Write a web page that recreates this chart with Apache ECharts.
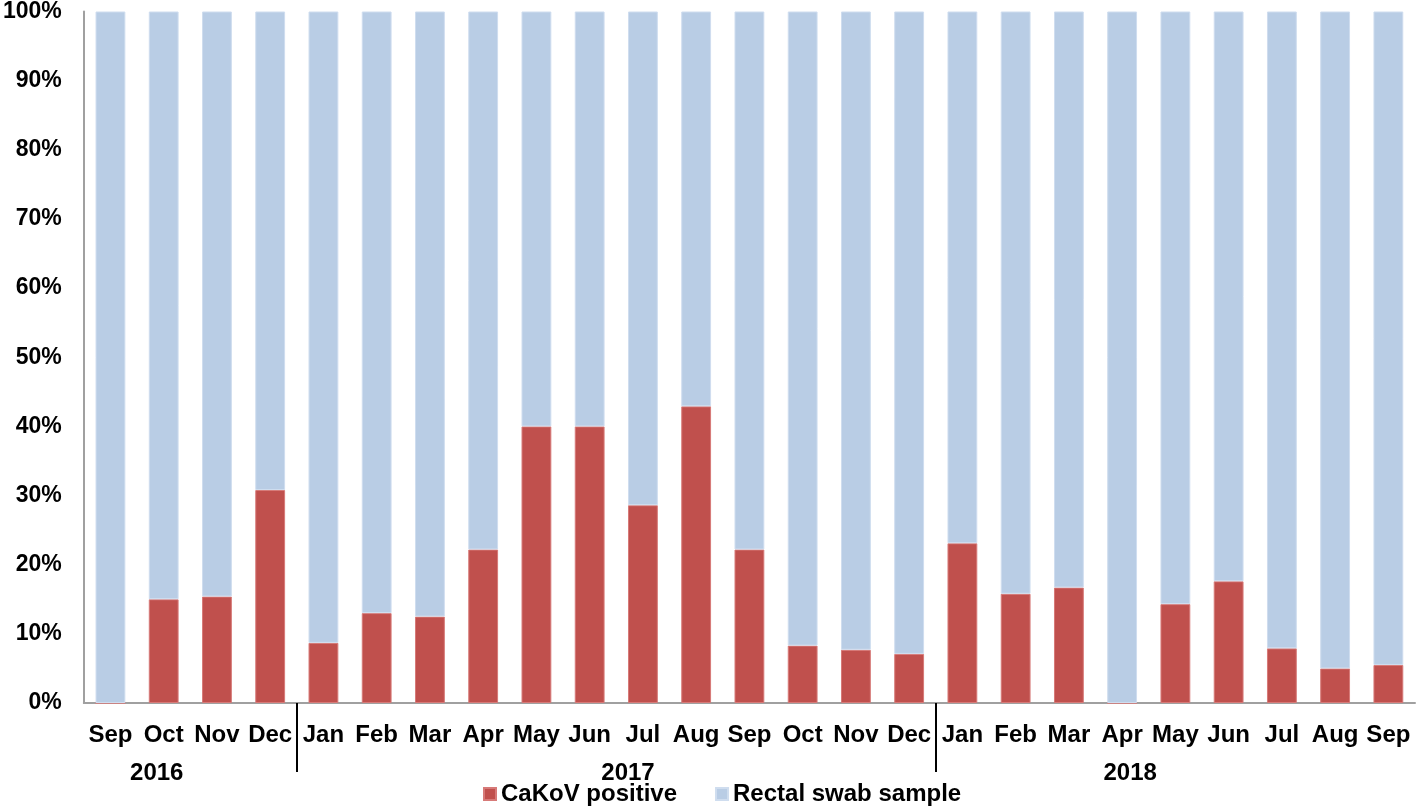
<!DOCTYPE html>
<html>
<head>
<meta charset="utf-8">
<script src="https://cdn.jsdelivr.net/npm/echarts@6/dist/echarts.min.js"></script>
<style>
  html, body { margin: 0; padding: 0; background: #fff; }
  #chart { width: 1418px; height: 806px; }
</style>
</head>
<body>
<div id="chart"></div>
<script>
// months Sep 2016 .. Sep 2018
var months = ['Sep', 'Oct', 'Nov', 'Dec', 'Jan', 'Feb', 'Mar', 'Apr', 'May', 'Jun', 'Jul', 'Aug', 'Sep',
              'Oct', 'Nov', 'Dec', 'Jan', 'Feb', 'Mar', 'Apr', 'May', 'Jun', 'Jul', 'Aug', 'Sep'];
// percent positive
var positive = [0, 15.0, 15.4, 30.8, 8.7, 13.0, 12.5, 22.2, 40.0, 40.0, 28.6, 42.9, 22.2,
                8.3, 7.7, 7.1, 23.1, 15.8, 16.7, 0, 14.3, 17.6, 7.9, 5.0, 5.5];
// rest of the samples (percent)
var swab = [100, 85.0, 84.6, 69.2, 91.3, 87.0, 87.5, 77.8, 60.0, 60.0, 71.4, 57.1, 77.8,
            91.7, 92.3, 92.9, 76.9, 84.2, 83.3, 100, 85.7, 82.4, 92.1, 95.0, 94.5];
var years = ['2016', '2017', '2018'];
var yearAt = [1.37, 10.22, 19.65];   // where the year text sits (in month units)
var yearBreaks = [4, 16];            // dividers between years

var font = '"Liberation Sans", Arial, sans-serif';
var myChart = echarts.init(document.getElementById('chart'));
var option = {
    animation: false,
    color: ['#C0504D', '#B9CDE5'],
    grid: { left: 81, right: 3, top: 10, bottom: 103 },
    legend: {
        data: ['CaKoV positive', 'Rectal swab sample'],
        left: 478,
        top: 777,
        itemWidth: 12,
        itemHeight: 12,
        itemGap: 38,
        icon: 'rect',
        textStyle: { fontFamily: font, fontWeight: 'bold', fontSize: 24, color: '#000' }
    },
    xAxis: [
        {
            type: 'category',
            data: months,
            axisLine: { lineStyle: { color: '#A0A0A0', width: 2 } },
            axisTick: { show: false },
            axisLabel: {
                interval: 0, margin: 20,
                fontFamily: font, fontWeight: 'bold', fontSize: 24, color: '#000'
            }
        },
        {
            type: 'value',
            min: 0,
            max: months.length,
            position: 'bottom',
            axisLine: { show: false },
            splitLine: { show: false },
            axisTick: {
                show: true,
                customValues: yearBreaks,
                length: 69,
                lineStyle: { color: '#000', width: 2 }
            },
            axisLabel: {
                customValues: yearAt,
                margin: 58,
                fontFamily: font, fontWeight: 'bold', fontSize: 24, color: '#000',
                formatter: function (v) { return years[yearAt.indexOf(v)]; }
            }
        }
    ],
    yAxis: {
        type: 'value',
        min: 0,
        max: 100,
        interval: 10,
        axisLine: { show: true, lineStyle: { color: '#A0A0A0', width: 2 } },
        axisTick: { show: false },
        splitLine: { show: false },
        axisLabel: {
            margin: 22,
            padding: [14, 0, 0, 0],
            formatter: '{value}%',
            fontFamily: font, fontWeight: 'bold', fontSize: 23, color: '#000'
        }
    },
    series: [
        {
            name: 'CaKoV positive',
            type: 'bar',
            stack: 'all',
            barWidth: '56%',
            itemStyle: { borderColor: '#D77A78', borderWidth: 1 },
            data: positive
        },
        {
            name: 'Rectal swab sample',
            type: 'bar',
            stack: 'all',
            barWidth: '56%',
            itemStyle: { borderColor: '#CFDDEF', borderWidth: 1 },
            data: swab
        }
    ]
};
myChart.setOption(option);
</script>
</body>
</html>
